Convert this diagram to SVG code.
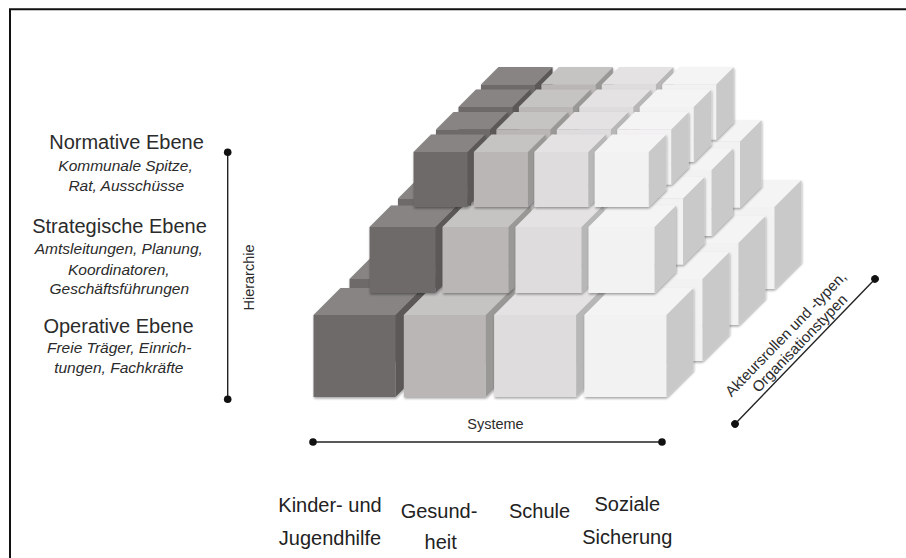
<svg xmlns="http://www.w3.org/2000/svg" width="906" height="558" viewBox="0 0 906 558">
<style>
text{font-family:"Liberation Sans",Arial,sans-serif;fill:#2b2b2b}
.h{font-size:20px}
.i{font-size:15.5px;font-style:italic}
.ax{font-size:14.5px}
.sy{font-size:20px;fill:#222}
.axl{stroke:#222;stroke-width:1.4;fill:none}
.dot{fill:#111}
.k1{color:#6e6a6a}.k2{color:#bab6b6}.k3{color:#dedcdd}.k4{color:#f3f2f3}
use{filter:url(#sh)}
</style>
<defs>
<filter id="sh" x="-15%" y="-15%" width="135%" height="135%">
<feDropShadow dx="0.6" dy="1.6" stdDeviation="1.3" flood-color="#000" flood-opacity="0.35"/>
</filter>
<g id="cb">
<polygon points="82,0 109,-27 109,55 82,82" fill="currentColor"/>
<polygon points="82,0 109,-27 109,55 82,82" fill="#000" fill-opacity="0.17"/>
<polygon points="0,0 82,0 109,-27 27,-27" fill="currentColor"/>
<polygon points="0,0 82,0 109,-27 27,-27" fill="#fff" fill-opacity="0.18"/>
<rect width="82" height="82" fill="currentColor"/>
</g>
<g id="cm">
<polygon points="66,0 87.5,-21.5 87.5,44.5 66,66" fill="currentColor"/>
<polygon points="66,0 87.5,-21.5 87.5,44.5 66,66" fill="#000" fill-opacity="0.17"/>
<polygon points="0,0 66,0 87.5,-21.5 21.5,-21.5" fill="currentColor"/>
<polygon points="0,0 66,0 87.5,-21.5 21.5,-21.5" fill="#fff" fill-opacity="0.18"/>
<rect width="66" height="66" fill="currentColor"/>
</g>
<g id="ct">
<polygon points="54,0 71.5,-17.5 71.5,37.5 54,55" fill="currentColor"/>
<polygon points="54,0 71.5,-17.5 71.5,37.5 54,55" fill="#000" fill-opacity="0.17"/>
<polygon points="0,0 54,0 71.5,-17.5 17.5,-17.5" fill="currentColor"/>
<polygon points="0,0 54,0 71.5,-17.5 17.5,-17.5" fill="#fff" fill-opacity="0.18"/>
<rect width="54" height="55" fill="currentColor"/>
</g>
</defs>

<rect width="906" height="558" fill="#fff"/>
<path d="M10,558 V9.3 H906" fill="none" stroke="#111" stroke-width="2"/>

<g id="tier-bottom">
<use href="#cb" x="421.5" y="207" class="k1"/>
<use href="#cb" x="511.8" y="207" class="k2"/>
<use href="#cb" x="602.1" y="207" class="k3"/>
<use href="#cb" x="692.4" y="207" class="k4"/>
<use href="#cb" x="385.5" y="243" class="k1"/>
<use href="#cb" x="475.8" y="243" class="k2"/>
<use href="#cb" x="566.1" y="243" class="k3"/>
<use href="#cb" x="656.4" y="243" class="k4"/>
<use href="#cb" x="349.5" y="279" class="k1"/>
<use href="#cb" x="439.8" y="279" class="k2"/>
<use href="#cb" x="530.1" y="279" class="k3"/>
<use href="#cb" x="620.4" y="279" class="k4"/>
<use href="#cb" x="313.5" y="315" class="k1"/>
<use href="#cb" x="403.8" y="315" class="k2"/>
<use href="#cb" x="494.1" y="315" class="k3"/>
<use href="#cb" x="584.4" y="315" class="k4"/>
</g>

<g id="tier-middle">
<use href="#cm" x="455" y="141.5" class="k1"/>
<use href="#cm" x="528" y="141.5" class="k2"/>
<use href="#cm" x="601" y="141.5" class="k3"/>
<use href="#cm" x="674" y="141.5" class="k4"/>
<use href="#cm" x="426.5" y="170" class="k1"/>
<use href="#cm" x="499.5" y="170" class="k2"/>
<use href="#cm" x="572.5" y="170" class="k3"/>
<use href="#cm" x="645.5" y="170" class="k4"/>
<use href="#cm" x="398" y="198.5" class="k1"/>
<use href="#cm" x="471" y="198.5" class="k2"/>
<use href="#cm" x="544" y="198.5" class="k3"/>
<use href="#cm" x="617" y="198.5" class="k4"/>
<use href="#cm" x="369.5" y="227" class="k1"/>
<use href="#cm" x="442.5" y="227" class="k2"/>
<use href="#cm" x="515.5" y="227" class="k3"/>
<use href="#cm" x="588.5" y="227" class="k4"/>
</g>

<g id="tier-top">
<use href="#ct" x="481" y="84.5" class="k1"/>
<use href="#ct" x="541.4" y="84.5" class="k2"/>
<use href="#ct" x="601.8" y="84.5" class="k3"/>
<use href="#ct" x="662.2" y="84.5" class="k4"/>
<use href="#ct" x="458.5" y="107" class="k1"/>
<use href="#ct" x="518.9" y="107" class="k2"/>
<use href="#ct" x="579.3" y="107" class="k3"/>
<use href="#ct" x="639.7" y="107" class="k4"/>
<use href="#ct" x="436" y="129.5" class="k1"/>
<use href="#ct" x="496.4" y="129.5" class="k2"/>
<use href="#ct" x="556.8" y="129.5" class="k3"/>
<use href="#ct" x="617.2" y="129.5" class="k4"/>
<use href="#ct" x="413.5" y="152" class="k1"/>
<use href="#ct" x="473.9" y="152" class="k2"/>
<use href="#ct" x="534.3" y="152" class="k3"/>
<use href="#ct" x="594.7" y="152" class="k4"/>
</g>

<g id="connectors">
<g id="axis-hierarchie">
<line class="axl" x1="227.7" y1="152.3" x2="227.7" y2="399.3"/>
<circle class="dot" cx="227.7" cy="152.3" r="3.8"/>
<circle class="dot" cx="227.7" cy="399.3" r="3.8"/>
</g>
<g id="axis-systeme">
<line class="axl" x1="313" y1="442" x2="662" y2="442"/>
<circle class="dot" cx="313" cy="442" r="3.8"/>
<circle class="dot" cx="662" cy="442" r="3.8"/>
</g>
<g id="axis-akteure" transform="translate(735,424) rotate(-46)">
<line class="axl" x1="0" y1="0" x2="201.6" y2="0"/>
<circle class="dot" cx="0" cy="0" r="3.8"/>
<circle class="dot" cx="201.6" cy="0" r="3.8"/>
</g>
</g>

<g id="label-hierarchie"><text class="ax" transform="translate(254,277.5) rotate(-90)" text-anchor="middle">Hierarchie</text></g>
<g id="label-systeme"><text class="ax" x="495.5" y="429" text-anchor="middle">Systeme</text></g>
<g id="label-akteure" transform="translate(735,424) rotate(-46)">
<text class="ax" x="100" y="-21" text-anchor="middle" style="font-size:15px">Akteursrollen und -typen,</text>
<text class="ax" x="103" y="-4.5" text-anchor="middle" style="font-size:15px">Organisationstypen</text>
</g>

<g id="level-normativ" text-anchor="middle">
<text class="h" x="126.5" y="149.3">Normative Ebene</text>
<text class="i" x="125.5" y="170.5">Kommunale Spitze,</text>
<text class="i" x="126.3" y="190.7">Rat, Ausschüsse</text>
</g>
<g id="level-strategisch" text-anchor="middle">
<text class="h" x="119.5" y="233.3">Strategische Ebene</text>
<text class="i" x="118.8" y="254">Amtsleitungen, Planung,</text>
<text class="i" x="118.8" y="275">Koordinatoren,</text>
<text class="i" x="119.3" y="294">Geschäftsführungen</text>
</g>
<g id="level-operativ" text-anchor="middle">
<text class="h" x="118.5" y="332.7">Operative Ebene</text>
<text class="i" x="119.2" y="353.3">Freie Träger, Einrich-</text>
<text class="i" x="118.8" y="373">tungen, Fachkräfte</text>
</g>

<g id="system-kjh" text-anchor="middle"><text class="sy" x="330" y="512">Kinder- und</text><text class="sy" x="330" y="545">Jugendhilfe</text></g>
<g id="system-gesundheit" text-anchor="middle"><text class="sy" x="439" y="518">Gesund-</text><text class="sy" x="440.7" y="549">heit</text></g>
<g id="system-schule" text-anchor="middle"><text class="sy" x="539.5" y="518">Schule</text></g>
<g id="system-sozial" text-anchor="middle"><text class="sy" x="627.3" y="511">Soziale</text><text class="sy" x="627.3" y="544">Sicherung</text></g>
</svg>
